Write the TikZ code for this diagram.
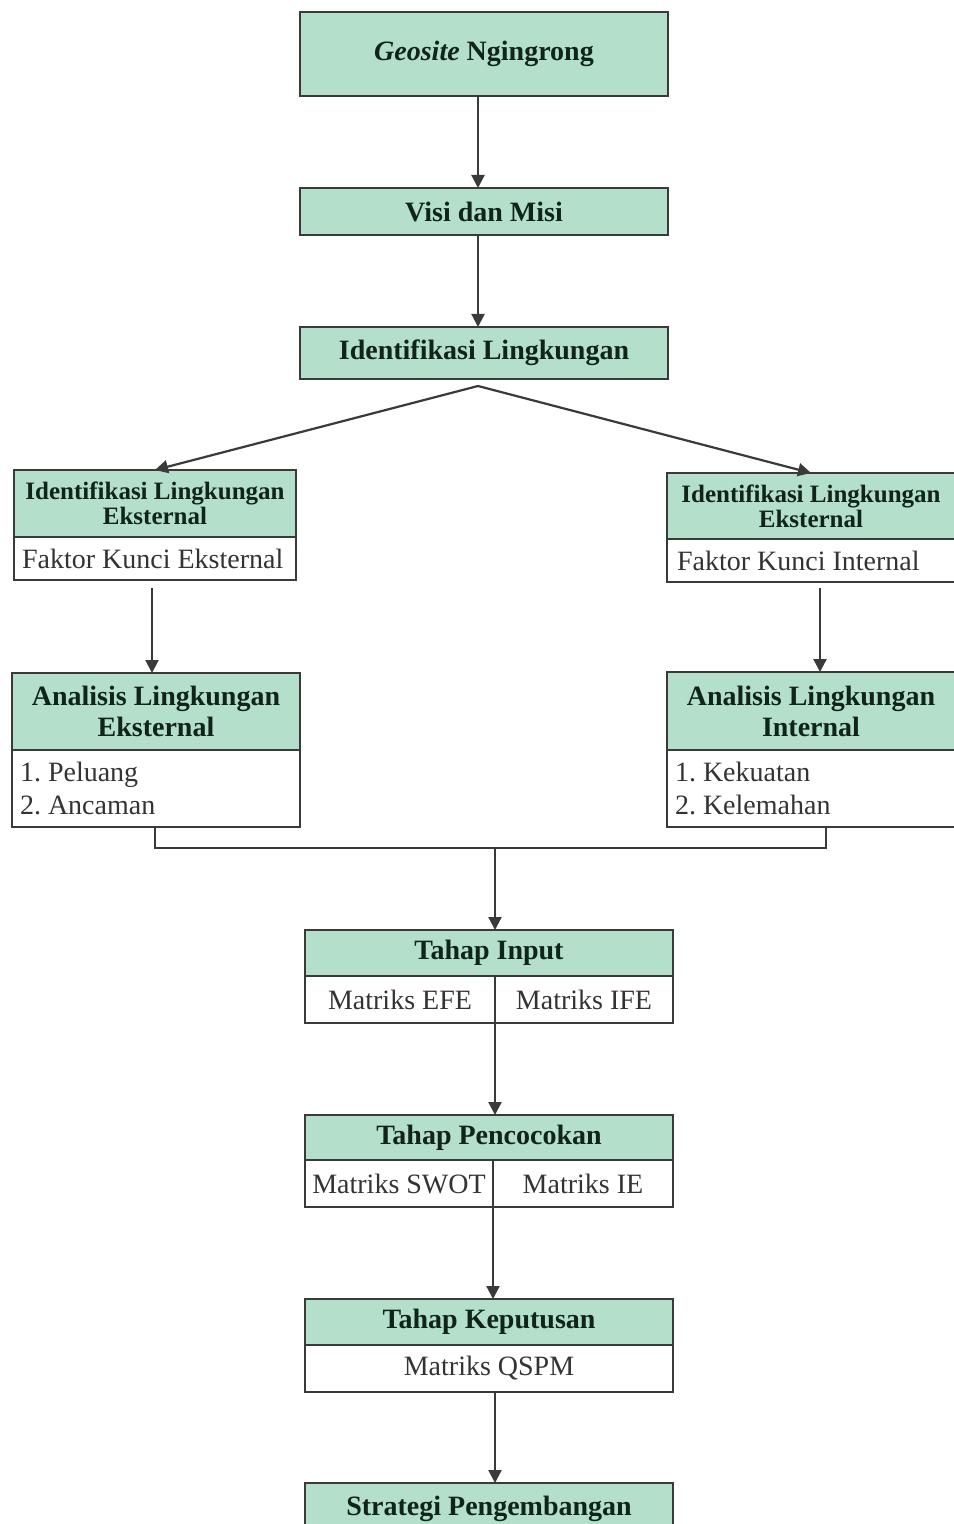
\documentclass[tikz,border=0pt]{standalone}
\usepackage{fontspec}
\setmainfont{Liberation Serif}
\usetikzlibrary{arrows.meta,calc}
\definecolor{mint}{HTML}{B3DFCB}
\definecolor{hdtext}{HTML}{10241A}
\definecolor{bdtext}{HTML}{333333}
\definecolor{edgec}{HTML}{3A3A3A}
\begin{document}
\begin{tikzpicture}[x=0.5pt,y=-0.5pt,
 box/.style={draw=edgec,line width=1.1pt,inner sep=0pt,outer sep=0pt},
 hd/.style={box,fill=mint,font=\bfseries\fontsize{14}{15.5}\selectfont,text=hdtext,align=center},
 bd/.style={box,fill=white,font=\fontsize{14}{16.5}\selectfont\frenchspacing,text=bdtext},
 arr/.style={draw=edgec,line width=1.1pt,-{Triangle[length=6.5pt,width=6.5pt]}},
 ln/.style={draw=edgec,line width=1.1pt}]
\useasboundingbox[fill=white] (0,0) rectangle (953,1524);

% top column
\node[hd,minimum width=184pt,minimum height=42pt] (geo) at (484,54) {\textit{Geosite} Ngingrong};
\node[hd,minimum width=184pt,minimum height=23.5pt] (visi) at (484,211.5) {Visi dan Misi};
\node[hd,minimum width=184pt,minimum height=26pt] (idl) at (484,353) {Identifikasi Lingkungan};

\draw[arr] ([xshift=-3pt]geo.south) -- ([xshift=-3pt]visi.north);
\draw[arr] ([xshift=-3pt]visi.south) -- ([xshift=-3pt]idl.north);

% left branch
\node[hd,minimum width=141pt,minimum height=33.5pt,font=\bfseries\fontsize{12.5}{12.5}\selectfont] (idEh) at (155,503.5) {Identifikasi Lingkungan\\Eksternal};
\node[bd,minimum width=141pt,minimum height=21.5pt,text width=133pt,align=flush left] (idEb) at (155,558.5) {Faktor Kunci Eksternal};
\node[hd,minimum width=144pt,minimum height=38.5pt] (anEh) at (156,711.5) {Analisis Lingkungan\\Eksternal};
\node[bd,minimum width=144pt,minimum height=38.5pt,text width=136pt,align=flush left] (anEb) at (156,788.5) {1. Peluang\\2. Ancaman};

% right branch
\node[hd,minimum width=144pt,minimum height=33pt,font=\bfseries\fontsize{12.5}{12.5}\selectfont] (idIh) at (811,506) {Identifikasi Lingkungan\\Eksternal};
\node[bd,minimum width=144pt,minimum height=21.5pt,text width=134pt,align=flush left] (idIb) at (811,560.5) {Faktor Kunci Internal};
\node[hd,minimum width=144pt,minimum height=39pt] (anIh) at (811,711) {Analisis Lingkungan\\Internal};
\node[bd,minimum width=144pt,minimum height=38.5pt,text width=136pt,align=flush left] (anIb) at (811,788.5) {1. Kekuatan\\2. Kelemahan};

\coordinate (apex) at (478,386);
\draw[arr] (apex) -- (idEh.north);
\draw[arr] (apex) -- (idIh.north);
\draw[arr,shorten <=4pt] ([xshift=-1.5pt]idEb.south) -- ([xshift=-1.5pt]idEb.south |- anEh.north);
\draw[arr,shorten <=3pt] ([xshift=4.5pt]idIb.south) -- ([xshift=4.5pt]idIb.south |- anIh.north);

% lower column
\node[hd,minimum width=184pt,minimum height=23pt] (TIh) at (489,953) {Tahap Input};
\node[bd,minimum width=95pt,minimum height=23.5pt] (TIl) at (400,999.5) {Matriks EFE};
\node[bd,minimum width=89pt,minimum height=23.5pt] (TIr) at (584,999.5) {Matriks IFE};

\node[hd,minimum width=184pt,minimum height=22.5pt] (TPh) at (489,1137.5) {Tahap Pencocokan};
\node[bd,minimum width=94pt,minimum height=23.5pt] (TPl) at (399,1183.5) {Matriks SWOT};
\node[bd,minimum width=90pt,minimum height=23.5pt] (TPr) at (583,1183.5) {Matriks IE};

\node[hd,minimum width=184pt,minimum height=23pt] (TKh) at (489,1322) {Tahap Keputusan};
\node[bd,minimum width=184pt,minimum height=23.5pt] (TKb) at (489,1368.5) {Matriks QSPM};

\node[hd,minimum width=184pt,minimum height=26pt] (SPh) at (489,1509) {Strategi Pengembangan};

% joining bracket
\coordinate (j) at (495,848);
\draw[ln] ([xshift=-0.5pt]anEb.south) |- (j);
\draw[ln] (j) -| ([xshift=7.5pt]anIb.south);
\draw[arr] (j) -- (j |- TIh.north);

\draw[arr] (TIl.south east) -- (TIl.south east |- TPh.north);
\draw[arr] (TPl.south east) -- (TPl.south east |- TKh.north);
\draw[arr] ([xshift=3pt]TKb.south) -- ([xshift=3pt]TKb.south |- SPh.north);
\end{tikzpicture}
\end{document}
